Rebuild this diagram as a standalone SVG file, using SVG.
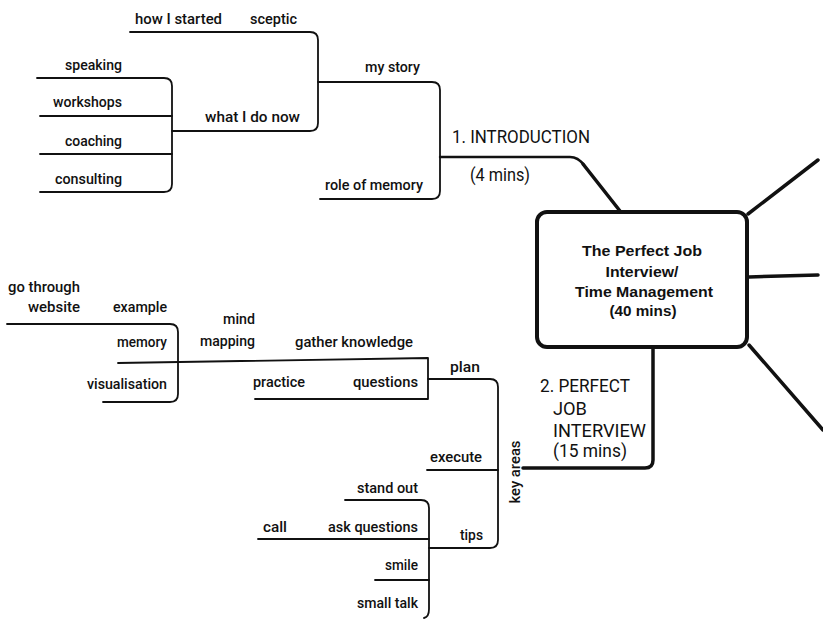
<svg xmlns="http://www.w3.org/2000/svg" width="823" height="622" viewBox="0 0 823 622">
<style>
.c{fill:none;stroke:#111;stroke-width:1.8;stroke-linecap:round;stroke-linejoin:round}
.k{fill:none;stroke:#111;stroke-width:3.5;stroke-linecap:round;stroke-linejoin:round}
.t{font-family:Roboto,"Liberation Sans",Arial,sans-serif;font-size:15.5px;font-weight:500;fill:#111}
.s{font-family:Roboto,"Liberation Sans",Arial,sans-serif;font-size:18.5px;fill:#111}
.b{font-family:"Liberation Sans",Arial,sans-serif;font-size:15.5px;font-weight:bold;fill:#111;text-anchor:middle}
</style>
<rect width="823" height="622" fill="#fff"/>
<g id="connectors">
<path class="c" d="M130,32 H310 Q318,32 318,40 V123 Q318,131 310,131 H172"/>
<path class="c" d="M318,82 H432 Q440,82 440,90 V191 Q440,199 432,199 H320"/>
<path class="c" d="M37,78 H164 Q172,78 172,86 V184 Q172,192 164,192 H40"/>
<path class="c" d="M40,116 H172 M40,154 H172"/>
<path class="c" style="stroke-width:2.4" d="M440,157 H570 Q578,157 584,165"/>
<path class="k" d="M583,164 L620,211"/>
<path class="k" d="M748,214 L818,160 M749,277 L818,275 M749,345 L823,430"/>
<path class="k" d="M653,347 V460 Q653,468 645,468 H523"/>
<path class="c" d="M428,379 H490 Q498,379 498,387 V540 Q498,548 490,548 H429"/>
<path class="c" d="M427,470 H498"/>
<path class="c" d="M118,363 L428,358 V399 H255"/>
<path class="c" d="M7,324 H170 Q178,324 178,332 V394 Q178,402 170,402 H103"/>
<path class="c" d="M345,500 H421 Q429,500 429,508 V609 Q429,617 424,618"/>
<path class="c" d="M258,539 H429 M375,580 H429"/>
</g>
<g id="center">
<rect x="537" y="212" width="210" height="135" rx="10" fill="#fff" stroke="#111" stroke-width="4"/>
<text class="b" x="642" y="256" textLength="120" lengthAdjust="spacingAndGlyphs">The Perfect Job</text>
<text class="b" x="642" y="277" textLength="73" lengthAdjust="spacingAndGlyphs">Interview/</text>
<text class="b" x="644" y="297" textLength="138" lengthAdjust="spacingAndGlyphs">Time Management</text>
<text class="b" x="643" y="316" textLength="67" lengthAdjust="spacingAndGlyphs">(40 mins)</text>
</g>
<g id="introduction">
<text class="s" x="452" y="143" textLength="138" lengthAdjust="spacingAndGlyphs">1. INTRODUCTION</text>
<text class="s" x="470" y="181" textLength="60" lengthAdjust="spacingAndGlyphs">(4 mins)</text>
</g>
<g id="my-story"><text class="t" x="365" y="72" textLength="55" lengthAdjust="spacingAndGlyphs">my story</text></g>
<g id="role-of-memory"><text class="t" x="325" y="190" textLength="98" lengthAdjust="spacingAndGlyphs">role of memory</text></g>
<g id="how-i-started"><text class="t" x="135" y="24" textLength="87" lengthAdjust="spacingAndGlyphs">how I started</text></g>
<g id="sceptic"><text class="t" x="250" y="24" textLength="47" lengthAdjust="spacingAndGlyphs">sceptic</text></g>
<g id="what-i-do-now"><text class="t" x="205" y="122" textLength="95" lengthAdjust="spacingAndGlyphs">what I do now</text></g>
<g id="speaking"><text class="t" x="65" y="70" textLength="57" lengthAdjust="spacingAndGlyphs">speaking</text></g>
<g id="workshops"><text class="t" x="53" y="107" textLength="69" lengthAdjust="spacingAndGlyphs">workshops</text></g>
<g id="coaching"><text class="t" x="65" y="146" textLength="57" lengthAdjust="spacingAndGlyphs">coaching</text></g>
<g id="consulting"><text class="t" x="55" y="184" textLength="67" lengthAdjust="spacingAndGlyphs">consulting</text></g>
<g id="perfect-job-interview">
<text class="s" x="540" y="392" textLength="90" lengthAdjust="spacingAndGlyphs">2. PERFECT</text>
<text class="s" x="553" y="415" textLength="34" lengthAdjust="spacingAndGlyphs">JOB</text>
<text class="s" x="553" y="437" textLength="93" lengthAdjust="spacingAndGlyphs">INTERVIEW</text>
<text class="s" x="553" y="457" textLength="74" lengthAdjust="spacingAndGlyphs">(15 mins)</text>
</g>
<g id="key-areas"><text class="t" x="0" y="0" text-anchor="middle" transform="translate(520,472) rotate(-90)" textLength="63" lengthAdjust="spacingAndGlyphs">key areas</text></g>
<g id="plan"><text class="t" x="450" y="372" textLength="30" lengthAdjust="spacingAndGlyphs">plan</text></g>
<g id="execute"><text class="t" x="430" y="462" textLength="52" lengthAdjust="spacingAndGlyphs">execute</text></g>
<g id="tips"><text class="t" x="460" y="540" textLength="23" lengthAdjust="spacingAndGlyphs">tips</text></g>
<g id="gather-knowledge"><text class="t" x="295" y="347" textLength="118" lengthAdjust="spacingAndGlyphs">gather knowledge</text></g>
<g id="questions"><text class="t" x="353" y="387" textLength="65" lengthAdjust="spacingAndGlyphs">questions</text></g>
<g id="practice"><text class="t" x="253" y="387" textLength="52" lengthAdjust="spacingAndGlyphs">practice</text></g>
<g id="mind-mapping">
<text class="t" x="223" y="324" textLength="32" lengthAdjust="spacingAndGlyphs">mind</text>
<text class="t" x="200" y="346" textLength="55" lengthAdjust="spacingAndGlyphs">mapping</text>
</g>
<g id="example"><text class="t" x="113" y="312" textLength="54" lengthAdjust="spacingAndGlyphs">example</text></g>
<g id="go-through-website">
<text class="t" x="8" y="292" textLength="72" lengthAdjust="spacingAndGlyphs">go through</text>
<text class="t" x="28" y="312" textLength="52" lengthAdjust="spacingAndGlyphs">website</text>
</g>
<g id="memory"><text class="t" x="117" y="347" textLength="50" lengthAdjust="spacingAndGlyphs">memory</text></g>
<g id="visualisation"><text class="t" x="87" y="389" textLength="80" lengthAdjust="spacingAndGlyphs">visualisation</text></g>
<g id="stand-out"><text class="t" x="357" y="493" textLength="61" lengthAdjust="spacingAndGlyphs">stand out</text></g>
<g id="ask-questions"><text class="t" x="328" y="532" textLength="90" lengthAdjust="spacingAndGlyphs">ask questions</text></g>
<g id="call"><text class="t" x="263" y="532" textLength="24" lengthAdjust="spacingAndGlyphs">call</text></g>
<g id="smile"><text class="t" x="385" y="570" textLength="33" lengthAdjust="spacingAndGlyphs">smile</text></g>
<g id="small-talk"><text class="t" x="357" y="608" textLength="61" lengthAdjust="spacingAndGlyphs">small talk</text></g>
</svg>
